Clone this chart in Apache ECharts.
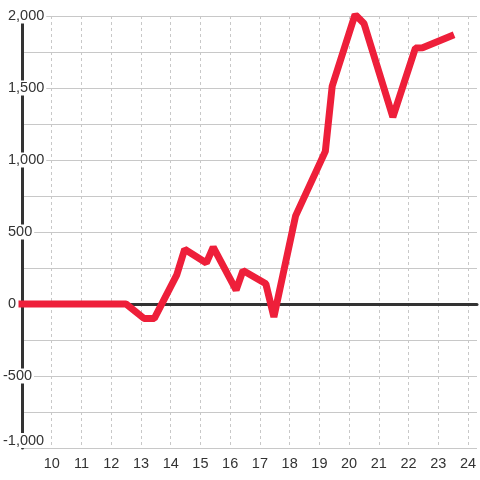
<!DOCTYPE html>
<html>
<head>
<meta charset="utf-8">
<script src="https://cdn.jsdelivr.net/npm/echarts@6/dist/echarts.min.js"></script>
<style>html,body{margin:0;padding:0;background:#fff}#c{width:480px;height:480px}</style>
</head>
<body>
<div id="c"></div>
<script>
var xValues = [9.0, 12.5, 13.1, 13.45, 14.2, 14.47, 15.2, 15.43, 16.2, 16.43, 17.2, 17.47, 18.2, 19.2, 19.43, 20.2, 20.5, 21.47, 22.23, 22.47, 23.42];
var yValues = [0, 0, -100, -100, 200, 380, 285, 395, 97, 232, 140, -90, 612, 1060, 1512, 2010, 1948, 1298, 1778, 1780, 1860];
var xTicks = [10, 11, 12, 13, 14, 15, 16, 17, 18, 19, 20, 21, 22, 23, 24];
var yTicks = [-1000, -500, 0, 500, 1000, 1500, 2000];

var data = xValues.map(function (x, i) { return [x, yValues[i]]; });
var chart = echarts.init(document.getElementById('c'), null, {renderer: 'canvas'});
var font = '"Liberation Sans", Arial, sans-serif';
chart.setOption({
  animation: false,
  grid: {left: 21, right: 0, top: 16, bottom: 32, containLabel: false},
  xAxis: [{
    type: 'value', min: 9, max: 24.3, interval: 1,
    axisLine: {show: false, onZero: false},
    axisTick: {show: false},
    axisLabel: {
      margin: 8, color: '#333', fontSize: 14.5, fontFamily: font,
      formatter: function (v) { return xTicks.indexOf(v) >= 0 ? String(v) : ''; }
    },
    splitLine: {show: true, showMinLine: false, showMaxLine: false, lineStyle: {color: '#c8c8c8', type: [3, 3], width: 1}}
  }, {
    type: 'value', min: 9, max: 24.3, position: 'bottom',
    axisLine: {show: true, onZero: true, lineStyle: {color: '#333', width: 3}},
    axisTick: {show: false}, axisLabel: {show: false}, splitLine: {show: false}
  }],
  yAxis: {
    type: 'value', min: -1000, max: 2000, interval: 500,
    axisLine: {show: true, onZero: false, lineStyle: {color: '#333', width: 3}},
    axisTick: {show: false},
    minorTick: {show: false, splitNumber: 2},
    minorSplitLine: {show: true, lineStyle: {color: '#c8c8c8', width: 1}},
    splitLine: {show: true, lineStyle: {color: '#c8c8c8', width: 1}},
    axisLabel: {
      align: 'left', margin: 19, color: '#333', fontSize: 14.5, fontFamily: font,
      backgroundColor: '#fff', padding: [0, 2, 0, 0],
      verticalAlignMinLabel: 'bottom',
      formatter: function (v) {
        if (yTicks.indexOf(v) < 0) return '';
        var s = echarts.format.addCommas(v);
        return v < 0 ? '{n|' + s + '}' : '{p|' + s + '}';
      },
      rich: {
        p: {padding: [0, 0, 0, 5], color: '#333', fontSize: 14.5, fontFamily: font},
        n: {color: '#333', fontSize: 14.5, fontFamily: font}
      }
    }
  },
  series: [{
    type: 'line', xAxisIndex: 0, data: data, showSymbol: false, symbol: 'none',
    lineStyle: {color: '#ee1f3a', width: 7, cap: 'square'},
    z: 5
  }]
});
</script>
</body>
</html>
